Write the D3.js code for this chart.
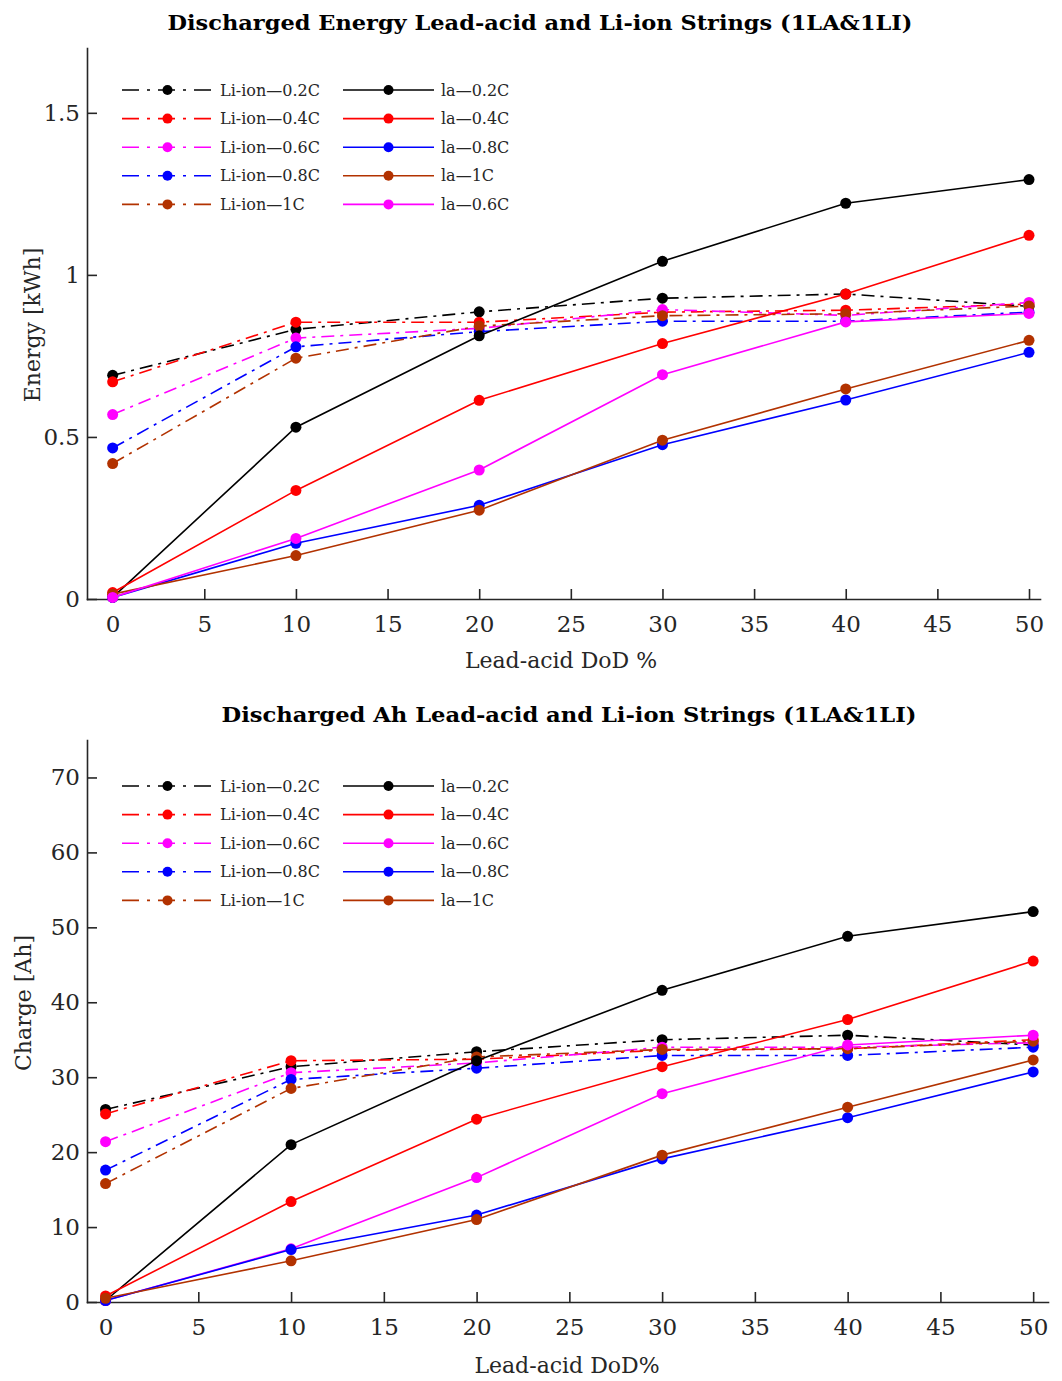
<!DOCTYPE html>
<html>
<head>
<meta charset="utf-8">
<script src="https://cdn.jsdelivr.net/npm/d3@7"></script>
<style>
  body { margin: 0; background: #fff; }
  svg { display: block; }
  .tick text { font-family: 'DejaVu Serif', serif; fill: #262626; }
  .axis path, .axis line { stroke: #262626; stroke-width: 1.6; }
</style>
</head>
<body>
<div id="chart"></div>
<script>
// x values: lead-acid depth of discharge (%)
const dod = [0, 10, 20, 30, 40, 50]
const xTicks = [0, 5, 10, 15, 20, 25, 30, 35, 40, 45, 50]

// top panel: discharged energy (kWh)
const liEnergy02 = [0.69, 0.832, 0.886, 0.928, 0.941, 0.903]
const liEnergy04 = [0.67, 0.854, 0.854, 0.885, 0.891, 0.91]
const liEnergy06 = [0.569, 0.805, 0.835, 0.893, 0.875, 0.915]
const liEnergy08 = [0.466, 0.778, 0.825, 0.857, 0.857, 0.885]
const liEnergy1 = [0.418, 0.743, 0.842, 0.874, 0.88, 0.904]
const laEnergy02 = [0.005, 0.53, 0.812, 1.042, 1.221, 1.294]
const laEnergy04 = [0.02, 0.335, 0.613, 0.788, 0.941, 1.122]
const laEnergy08 = [0.005, 0.172, 0.289, 0.476, 0.614, 0.761]
const laEnergy1 = [0.015, 0.134, 0.274, 0.49, 0.648, 0.798]
const laEnergy06 = [0.005, 0.187, 0.398, 0.692, 0.855, 0.881]
const energyTicks = [0, 0.5, 1, 1.5]

// bottom panel: discharged charge (Ah)
const liCharge02 = [25.7, 31.4, 33.4, 35.0, 35.6, 34.3]
const liCharge04 = [25.1, 32.2, 32.4, 33.6, 33.8, 35.0]
const liCharge06 = [21.4, 30.6, 31.9, 34.0, 34.0, 34.6]
const liCharge08 = [17.6, 29.7, 31.2, 32.9, 32.9, 34.0]
const liCharge1 = [15.8, 28.5, 32.7, 33.7, 33.8, 34.8]
const laCharge02 = [0.2, 21.0, 32.2, 41.6, 48.8, 52.1]
const laCharge04 = [0.8, 13.4, 24.4, 31.4, 37.7, 45.5]
const laCharge06 = [0.2, 7.1, 16.6, 27.8, 34.3, 35.6]
const laCharge08 = [0.2, 7.0, 11.6, 19.1, 24.6, 30.7]
const laCharge1 = [0.5, 5.5, 11.0, 19.6, 26.0, 32.3]
const chargeTicks = [0, 10, 20, 30, 40, 50, 60, 70]

const colors = { c02: '#000000', c04: '#ff0000', c06: '#ff00ff', c08: '#0000ff', c1: '#b23200' }
const dashDot = '13,6,3,6'

const energySeries = [
  { name: 'Li-ion—0.2C', values: liEnergy02, color: colors.c02, dash: true },
  { name: 'Li-ion—0.4C', values: liEnergy04, color: colors.c04, dash: true },
  { name: 'Li-ion—0.6C', values: liEnergy06, color: colors.c06, dash: true },
  { name: 'Li-ion—0.8C', values: liEnergy08, color: colors.c08, dash: true },
  { name: 'Li-ion—1C', values: liEnergy1, color: colors.c1, dash: true },
  { name: 'la—0.2C', values: laEnergy02, color: colors.c02 },
  { name: 'la—0.4C', values: laEnergy04, color: colors.c04 },
  { name: 'la—0.8C', values: laEnergy08, color: colors.c08 },
  { name: 'la—1C', values: laEnergy1, color: colors.c1 },
  { name: 'la—0.6C', values: laEnergy06, color: colors.c06 }
]

const chargeSeries = [
  { name: 'Li-ion—0.2C', values: liCharge02, color: colors.c02, dash: true },
  { name: 'Li-ion—0.4C', values: liCharge04, color: colors.c04, dash: true },
  { name: 'Li-ion—0.6C', values: liCharge06, color: colors.c06, dash: true },
  { name: 'Li-ion—0.8C', values: liCharge08, color: colors.c08, dash: true },
  { name: 'Li-ion—1C', values: liCharge1, color: colors.c1, dash: true },
  { name: 'la—0.2C', values: laCharge02, color: colors.c02 },
  { name: 'la—0.4C', values: laCharge04, color: colors.c04 },
  { name: 'la—0.6C', values: laCharge06, color: colors.c06 },
  { name: 'la—0.8C', values: laCharge08, color: colors.c08 },
  { name: 'la—1C', values: laCharge1, color: colors.c1 }
]

const svg = d3.select('#chart').append('svg')
  .attr('width', 1062)
  .attr('height', 1381)

function drawPanel (opts) {
  const { series, yTicks, yFormat, xDomain, xRange, yDomain, yRange } = opts
  const g = svg.append('g')

  const x = d3.scaleLinear().domain(xDomain).range(xRange)
  const y = d3.scaleLinear().domain(yDomain).range(yRange)

  // axes with inward ticks, no box
  g.append('g')
    .attr('class', 'axis')
    .attr('transform', 'translate(0,' + yRange[0] + ')')
    .call(d3.axisBottom(x).tickValues(xTicks).tickSizeInner(-10).tickSizeOuter(0).tickPadding(17))
    .selectAll('text')
    .attr('font-size', 23)

  g.append('g')
    .attr('class', 'axis')
    .attr('transform', 'translate(' + xRange[0] + ',0)')
    .call(d3.axisLeft(y).tickValues(yTicks).tickFormat(yFormat).tickSizeInner(-10).tickSizeOuter(0).tickPadding(7))
    .selectAll('text')
    .attr('font-size', 23)

  g.selectAll('.domain').attr('stroke-linecap', 'square')

  const line = d3.line()
    .x((d, i) => x(dod[i]))
    .y(d => y(d))

  series.forEach(s => {
    g.append('path')
      .datum(s.values)
      .attr('fill', 'none')
      .attr('stroke', s.color)
      .attr('stroke-width', 1.6)
      .attr('stroke-dasharray', s.dash ? dashDot : null)
      .attr('d', line)

    g.selectAll(null)
      .data(s.values)
      .enter().append('circle')
      .attr('cx', (d, i) => x(dod[i]))
      .attr('cy', d => y(d))
      .attr('r', 5.5)
      .attr('fill', s.color)
  })

  // legend, two columns of five
  const leg = g.append('g').attr('transform', 'translate(0,' + opts.legendTop + ')')
  series.forEach((s, i) => {
    const col = Math.floor(i / 5)
    const row = i % 5
    const x0 = col === 0 ? 122 : 343
    const ly = row * 28.6
    const item = leg.append('g').attr('transform', 'translate(' + x0 + ',' + ly + ')')
    item.append('line')
      .attr('x1', 0).attr('x2', 91)
      .attr('stroke', s.color)
      .attr('stroke-width', 1.6)
      .attr('stroke-dasharray', s.dash ? '17,8,3,8' : null)
    item.append('circle').attr('cx', 45.5).attr('r', 5).attr('fill', s.color)
    item.append('text')
      .attr('x', 98)
      .attr('dy', '0.35em')
      .attr('font-family', 'DejaVu Serif, serif')
      .attr('font-size', 16)
      .attr('fill', '#262626')
      .text(s.name)
  })

  svg.append('text')
    .attr('x', opts.titleX).attr('y', opts.titleY)
    .attr('text-anchor', 'middle')
    .attr('font-family', 'DejaVu Serif, serif')
    .attr('font-weight', 'bold')
    .attr('font-size', 21)
    .attr('textLength', opts.titleLen)
    .attr('lengthAdjust', 'spacingAndGlyphs')
    .attr('fill', '#000')
    .text(opts.title)

  svg.append('text')
    .attr('x', opts.xLabelX).attr('y', opts.xLabelY)
    .attr('text-anchor', 'middle')
    .attr('font-family', 'DejaVu Serif, serif')
    .attr('font-size', 22)
    .attr('fill', '#262626')
    .text(opts.xLabel)

  svg.append('text')
    .attr('transform', 'translate(' + opts.yLabelX + ',' + opts.yLabelY + ') rotate(-90)')
    .attr('text-anchor', 'middle')
    .attr('font-family', 'DejaVu Serif, serif')
    .attr('font-size', 22)
    .attr('fill', '#262626')
    .text(opts.yLabel)
}

drawPanel({
  series: energySeries,
  yTicks: energyTicks,
  yFormat: d3.format('~g'),
  xDomain: [-1.4, 50.6],
  xRange: [87, 1040],
  yDomain: [0, 1.7],
  yRange: [599, 48],
  legendTop: 90,
  title: 'Discharged Energy Lead-acid and Li-ion Strings (1LA&1LI)',
  titleX: 540, titleY: 30, titleLen: 745,
  xLabel: 'Lead-acid DoD %', xLabelX: 561, xLabelY: 668,
  yLabel: 'Energy [kWh]', yLabelX: 40, yLabelY: 325
})

drawPanel({
  series: chargeSeries,
  yTicks: chargeTicks,
  yFormat: d3.format('d'),
  xDomain: [-1, 50.8],
  xRange: [87, 1048],
  yDomain: [0, 75],
  yRange: [1302, 740],
  legendTop: 786,
  title: 'Discharged Ah Lead-acid and Li-ion Strings (1LA&1LI)',
  titleX: 569, titleY: 722, titleLen: 695,
  xLabel: 'Lead-acid DoD%', xLabelX: 567, xLabelY: 1373,
  yLabel: 'Charge [Ah]', yLabelX: 31, yLabelY: 1003
})
</script>
</body>
</html>
